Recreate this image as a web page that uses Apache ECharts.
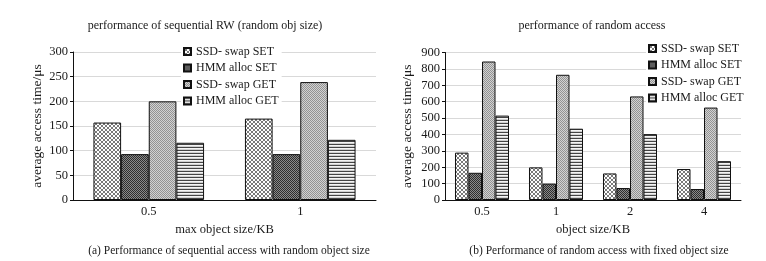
<!DOCTYPE html>
<html>
<head>
<meta charset="utf-8">
<script src="https://cdn.jsdelivr.net/npm/echarts@6/dist/echarts.min.js"></script>
<style>
  html, body { margin: 0; padding: 0; background: #fff; }
  #main { width: 766px; height: 261px; }
</style>
</head>
<body>
<div id="main"></div>
<script>
// data
var seriesNames = ['SSD- swap SET', 'HMM alloc SET', 'SSD- swap GET', 'HMM alloc GET'];

var seqSizes = ['0.5', '1'];
var seqSsdSet = [157, 165];
var seqHmmSet = [93, 93];
var seqSsdGet = [200, 239];
var seqHmmGet = [116, 122];

var rndSizes = ['0.5', '1', '2', '4'];
var rndSsdSet = [289, 199, 162, 189];
var rndHmmSet = [166, 100, 73, 67];
var rndSsdGet = [845, 764, 632, 564];
var rndHmmGet = [515, 435, 402, 237];

// fill patterns like the printed figure
function tile(w, h, draw) {
    var c = document.createElement('canvas');
    c.width = w;
    c.height = h;
    draw(c.getContext('2d'));
    return { image: c, repeat: 'repeat' };
}
var patterns = [
    tile(4, 4, function (g) {
        g.fillStyle = '#fff'; g.fillRect(0, 0, 4, 4);
        g.fillStyle = '#7a7a7a';
        for (var i = 0; i < 4; i++) { g.fillRect(i, i, 1, 1); g.fillRect(3 - i, i, 1, 1); }
    }),
    tile(2, 2, function (g) {
        g.fillStyle = '#8a8a8a'; g.fillRect(0, 0, 2, 2);
        g.fillStyle = '#2e2e2e'; g.fillRect(0, 0, 1, 1); g.fillRect(1, 1, 1, 1);
    }),
    tile(2, 2, function (g) {
        g.fillStyle = '#d2d2d2'; g.fillRect(0, 0, 2, 2);
        g.fillStyle = '#939393'; g.fillRect(0, 0, 1, 1); g.fillRect(1, 1, 1, 1);
    }),
    tile(1, 3, function (g) {
        g.fillStyle = '#f4f4f4'; g.fillRect(0, 0, 1, 3);
        g.fillStyle = '#d0d0d0'; g.fillRect(0, 2, 1, 1);
        g.fillStyle = '#444'; g.fillRect(0, 0, 1, 1);
    })
];

var serif = '"Liberation Serif", "DejaVu Serif", serif';
var txt = '#1a1a1a';

function mkSeries(idx, lists) {
    return lists.map(function (vals, i) {
        return {
            name: seriesNames[i],
            type: 'bar',
            xAxisIndex: idx,
            yAxisIndex: idx,
            barGap: 0,
            barCategoryGap: '27%',
            data: vals,
            itemStyle: { color: patterns[i], borderColor: '#111', borderWidth: 1 }
        };
    });
}

function xAx(idx, cats, name) {
    return {
        type: 'category', gridIndex: idx, data: cats,
        name: name, nameLocation: 'middle', nameGap: 22,
        nameTextStyle: { fontFamily: serif, fontSize: 12.5, color: txt },
        axisLine: { lineStyle: { color: '#111', width: 1 } },
        axisTick: { show: false },
        axisLabel: { margin: 5, fontFamily: serif, fontSize: 12.5, color: txt }
    };
}

function yAx(idx, max, step, gap) {
    return {
        type: 'value', gridIndex: idx, min: 0, max: max, interval: step,
        name: 'average access time/μs', nameLocation: 'middle', nameGap: gap,
        nameTextStyle: { fontFamily: serif, fontSize: 13.5, color: txt },
        axisLine: { show: true, lineStyle: { color: '#111', width: 1 } },
        axisTick: { show: true, length: 3, lineStyle: { color: '#111' } },
        axisLabel: { margin: 5, fontFamily: serif, fontSize: 12.5, color: txt },
        splitLine: { lineStyle: { color: '#d9d9d9' } }
    };
}

function legendAt(left, top) {
    return {
        orient: 'vertical', left: left, top: top,
        data: seriesNames,
        icon: 'rect', itemWidth: 7, itemHeight: 7, itemGap: 3.5,
        padding: [0, 3, 0, 2],
        backgroundColor: '#fff',
        textStyle: { fontFamily: serif, fontSize: 12, lineHeight: 13, color: txt }
    };
}

var option = {
    backgroundColor: '#fff',
    animation: false,
    title: [
        { text: 'performance of sequential RW (random obj size)', left: 200, top: 15, textAlign: 'center',
          textStyle: { fontFamily: serif, fontSize: 12, fontWeight: 'normal', color: txt } },
        { text: 'performance of random access', left: 587, top: 15, textAlign: 'center',
          textStyle: { fontFamily: serif, fontSize: 12, fontWeight: 'normal', color: txt } },
        { text: '(a) Performance of sequential access with random object size', left: 224, top: 240, textAlign: 'center',
          textStyle: { fontFamily: serif, fontSize: 11.5, fontWeight: 'normal', color: txt } },
        { text: '(b) Performance of random access with fixed object size', left: 594, top: 240, textAlign: 'center',
          textStyle: { fontFamily: serif, fontSize: 11.5, fontWeight: 'normal', color: txt } }
    ],
    legend: [legendAt(181, 45), legendAt(646, 42)],
    grid: [
        { left: 73, top: 52, width: 303, height: 148 },
        { left: 445, top: 52.5, width: 296, height: 147.5 }
    ],
    xAxis: [xAx(0, seqSizes, 'max object size/KB'), xAx(1, rndSizes, 'object size/KB')],
    yAxis: [yAx(0, 300, 50, 29), yAx(1, 900, 100, 31)],
    series: mkSeries(0, [seqSsdSet, seqHmmSet, seqSsdGet, seqHmmGet])
        .concat(mkSeries(1, [rndSsdSet, rndHmmSet, rndSsdGet, rndHmmGet]))
};

var myChart = echarts.init(document.getElementById('main'));
myChart.setOption(option);
</script>
</body>
</html>
